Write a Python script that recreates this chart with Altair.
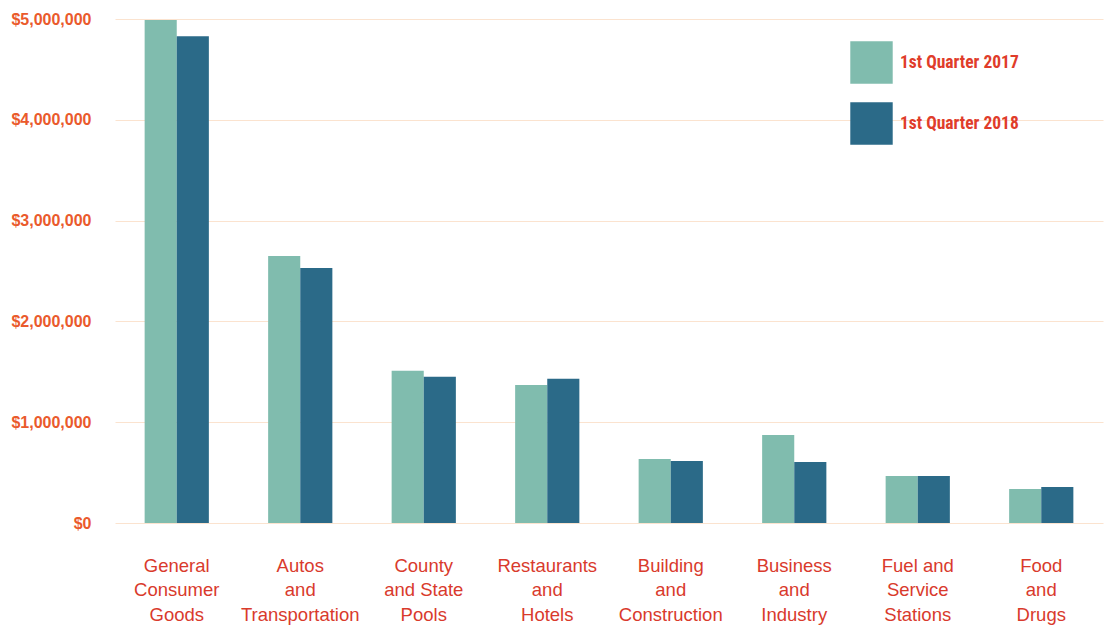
import altair as alt
import pandas as pd

categories = [
    "General Consumer Goods",
    "Autos and Transportation",
    "County and State Pools",
    "Restaurants and Hotels",
    "Building and Construction",
    "Business and Industry",
    "Fuel and Service Stations",
    "Food and Drugs",
]
category_lines = [
    ["General", "Consumer", "Goods"],
    ["Autos", "and", "Transportation"],
    ["County", "and State", "Pools"],
    ["Restaurants", "and", "Hotels"],
    ["Building", "and", "Construction"],
    ["Business", "and", "Industry"],
    ["Fuel and", "Service", "Stations"],
    ["Food", "and", "Drugs"],
]
series_names = ["1st Quarter 2017", "1st Quarter 2018"]
q1_2017 = [4990000, 2650000, 1510000, 1370000, 635000, 873000, 466000, 337000]
q1_2018 = [4830000, 2530000, 1450000, 1430000, 615000, 605000, 466000, 357000]
y_ticks = [0, 1000000, 2000000, 3000000, 4000000, 5000000]
colors = ["#80bcae", "#2b6a88"]

rows = []
for c, a, b in zip(categories, q1_2017, q1_2018):
    rows.append({"category": c, "series": series_names[0], "value": a})
    rows.append({"category": c, "series": series_names[1], "value": b})
df = pd.DataFrame(rows)

# multi-line label expression
expr = "datum.label"
for c, lines in reversed(list(zip(categories, category_lines))):
    arr = "[" + ",".join("'" + l + "'" for l in lines) + "]"
    expr = f"datum.label == '{c}' ? {arr} : ({expr})"

chart = alt.Chart(df).mark_bar().encode(
    x=alt.X(
        "category:N",
        sort=categories,
        title=None,
        scale=alt.Scale(paddingInner=0.48, paddingOuter=0.24),
        axis=alt.Axis(
            labelExpr=expr,
            labelAngle=0,
            labelFont="Liberation Sans, Arial, sans-serif",
            labelFontSize=18.5,
            labelLineHeight=24.5,
            labelColor="#d93a2c",
            labelPadding=33,
            labelBaseline="top",
            ticks=False,
            domain=False,
            grid=False,
        ),
    ),
    xOffset=alt.XOffset("series:N", sort=series_names, scale=alt.Scale(paddingInner=0)),
    y=alt.Y(
        "value:Q",
        title=None,
        scale=alt.Scale(domain=[0, 5000000], nice=False),
        axis=alt.Axis(
            values=y_ticks,
            format="$,.0f",
            labelFont="Liberation Sans, Arial, sans-serif",
            labelFontSize=16,
            labelFontWeight="bold",
            labelColor="#ea5a2c",
            labelPadding=24,
            ticks=False,
            domain=False,
            grid=True,
            gridColor="#fbe3cf",
            gridWidth=1.2,
        ),
    ),
    color=alt.Color(
        "series:N",
        sort=series_names,
        scale=alt.Scale(domain=series_names, range=colors),
        legend=alt.Legend(
            title=None,
            orient="none",
            legendX=735,
            legendY=22,
            symbolType="square",
            symbolSize=1800,
            symbolStrokeWidth=0,
            rowPadding=18,
            labelFont="Liberation Sans Narrow, Roboto Condensed, Arial Narrow, Liberation Sans, sans-serif",
            labelFontSize=17.5,
            labelFontWeight="bold",
            labelColor="#e03c2a",
            labelOffset=7,
        ),
    ),
).properties(
    width=988,
    height=504,
    background="white",
    padding={"left": 2, "top": 3, "right": 2, "bottom": 2},
).configure_view(stroke="transparent", strokeWidth=0)

chart.save("out.html", embed_options={"renderer": "svg", "actions": False})
